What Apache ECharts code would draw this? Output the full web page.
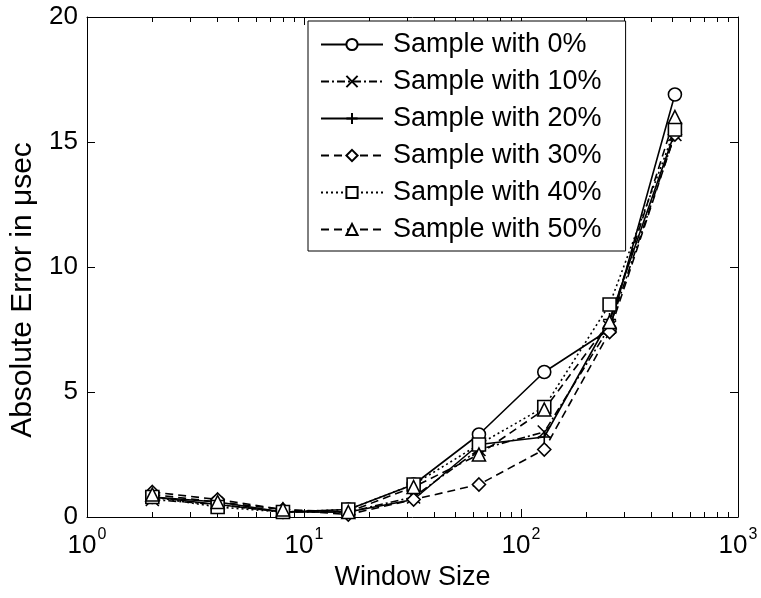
<!DOCTYPE html>
<html>
<head>
<meta charset="utf-8">
<script src="https://cdn.jsdelivr.net/npm/echarts@6/dist/echarts.min.js"></script>
<style>
  html, body { margin: 0; padding: 0; background: #fff; }
  #chart { width: 761px; height: 598px; }
</style>
</head>
<body>
<div id="chart"></div>
<script>
// window sizes (x, log scale)
var windowSizes = [2, 4, 8, 16, 32, 64, 128, 256, 512];

// absolute error in usec, one array per sample
var sample0  = [0.8, 0.6, 0.2, 0.3, 1.3, 3.3, 5.8, 7.5, 16.9];
var sample10 = [0.7, 0.5, 0.2, 0.2, 0.8, 2.7, 3.4, 7.6, 15.3];
var sample20 = [0.8, 0.5, 0.2, 0.2, 0.7, 2.9, 3.2, 7.9, 15.4];
var sample30 = [1.0, 0.7, 0.3, 0.1, 0.7, 1.3, 2.7, 7.4, 15.3];
var sample40 = [0.8, 0.4, 0.2, 0.3, 1.3, 2.9, 4.4, 8.5, 15.5];
var sample50 = [0.9, 0.6, 0.3, 0.2, 1.2, 2.5, 4.3, 7.8, 16.0];

var seriesNames = ['Sample with 0%', 'Sample with 10%', 'Sample with 20%',
                   'Sample with 30%', 'Sample with 40%', 'Sample with 50%'];

var chartDom = document.getElementById('chart');
var myChart = echarts.init(chartDom);
var option;

var font = 'Arial, "Liberation Sans", sans-serif';

function makeSeries(name, values, symbol, dash) {
    return {
        name: name,
        type: 'line',
        xAxisIndex: 0,
        yAxisIndex: 0,
        data: windowSizes.map(function (x, i) { return [x, values[i]]; }),
        symbol: symbol,
        symbolSize: 13,
        showAllSymbol: true,
        lineStyle: { color: '#000', width: 1.6, type: dash },
        itemStyle: { color: '#fff', borderColor: '#000', borderWidth: 1.6 },
        emphasis: { disabled: true },
        animation: false
    };
}

var xSym = 'path://M0,0L10,10M10,0L0,10';
var plusSym = 'path://M5,0L5,10M0,5L10,5';

var axisLine = { show: true, onZero: false, lineStyle: { color: '#000', width: 1 } };
var innerTicks = { show: true, inside: true, length: 8, lineStyle: { color: '#000' } };
var minorTicks = { show: true, splitNumber: 9, length: 5, lineStyle: { color: '#000' } };

option = {
    backgroundColor: '#fff',
    grid: { left: 87, right: 23, top: 17, bottom: 81, show: false, outerBoundsMode: 'none', containLabel: false },
    legend: {
        orient: 'vertical',
        left: 308,
        top: 21,
        itemGap: 10,
        itemWidth: 62,
        itemHeight: 14,
        padding: [10, 24, 8, 12],
        borderColor: '#000',
        borderWidth: 1,
        borderRadius: 0,
        backgroundColor: '#fff',
        textStyle: { fontFamily: font, fontSize: 27, lineHeight: 27, color: '#000', padding: [0, 0, 0, 5] },
        data: seriesNames
    },
    xAxis: [{
        type: 'log',
        logBase: 10,
        min: 1,
        max: 1000,
        name: 'Window Size',
        nameLocation: 'middle',
        nameGap: 47,
        nameTextStyle: { fontFamily: font, fontSize: 27, color: '#000' },
        axisLine: axisLine,
        axisTick: innerTicks,
        minorTick: minorTicks,
        splitLine: { show: false },
        axisLabel: {
            margin: 10,
            formatter: function (v) {
                var e = Math.round(Math.log10(v));
                return '{b|10}{s|' + e + '}';
            },
            rich: {
                b: { fontFamily: font, fontSize: 26, color: '#000', padding: [6, 0, 0, 0] },
                s: { fontFamily: font, fontSize: 16, color: '#000', verticalAlign: 'top', padding: [0, 0, 0, 1] }
            }
        }
    }, {
        type: 'log',
        logBase: 10,
        min: 1,
        max: 1000,
        position: 'top',
        axisLine: axisLine,
        axisTick: innerTicks,
        minorTick: minorTicks,
        axisLabel: { show: false },
        splitLine: { show: false }
    }],
    yAxis: [{
        type: 'value',
        min: 0,
        max: 20,
        interval: 5,
        name: 'Absolute Error in \u03bcsec',
        nameLocation: 'middle',
        nameGap: 44,
        nameTextStyle: { fontFamily: font, fontSize: 30, color: '#000', padding: [0, 46, 0, 0] },
        axisLine: axisLine,
        axisTick: innerTicks,
        splitLine: { show: false },
        axisLabel: { fontFamily: font, fontSize: 26, color: '#000', margin: 9 }
    }, {
        type: 'value',
        min: 0,
        max: 20,
        interval: 5,
        position: 'right',
        axisLine: axisLine,
        axisTick: innerTicks,
        axisLabel: { show: false },
        splitLine: { show: false }
    }],
    series: [
        makeSeries(seriesNames[0], sample0, 'circle', 'solid'),
        makeSeries(seriesNames[1], sample10, xSym, [8, 3, 2, 3]),
        makeSeries(seriesNames[2], sample20, plusSym, 'solid'),
        makeSeries(seriesNames[3], sample30, 'diamond', [8, 5]),
        makeSeries(seriesNames[4], sample40, 'rect', [2, 3]),
        makeSeries(seriesNames[5], sample50, 'triangle', [8, 5])
    ]
};

option && myChart.setOption(option);
</script>
</body>
</html>
